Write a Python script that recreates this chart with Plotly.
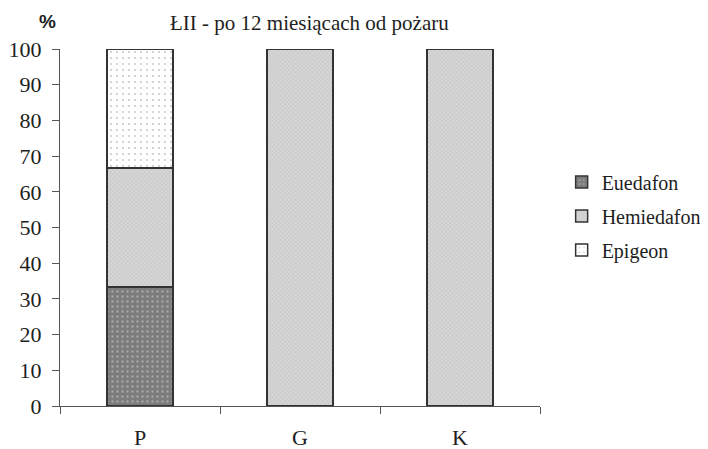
import plotly.graph_objects as go

categories = ["P", "G", "K"]
euedafon = [33.3, 0, 0]
hemiedafon = [33.3, 100, 100]
epigeon = [33.4, 0, 0]

series = [
    ("Euedafon", euedafon, dict(shape=".", bgcolor="#7c7c7c", fgcolor="#cfcfcf", size=5, solidity=0.18)),
    ("Hemiedafon", hemiedafon, dict(shape="x", bgcolor="#d6d6d6", fgcolor="#9c9c9c", size=3, solidity=0.25)),
    ("Epigeon", epigeon, dict(shape=".", bgcolor="#ffffff", fgcolor="#8a8a8a", size=6, solidity=0.08)),
]

fig = go.Figure()
for name, vals, pat in series:
    fig.add_trace(go.Bar(
        x=categories, y=vals, name=name, legendgroup=name,
        width=0.41,
        marker=dict(color=pat["bgcolor"], pattern=pat,
                    line=dict(color="#333333", width=1.5)),
    ))

serif = "Liberation Serif, Times New Roman, serif"
txt = "#1e1e1e"
fig.update_layout(
    width=708, height=449,
    barmode="stack",
    paper_bgcolor="white", plot_bgcolor="white",
    margin=dict(l=52, r=176, t=41, b=51),
    font=dict(family=serif, size=21, color=txt),
    showlegend=True,
    legend=dict(xref="container", yref="paper", x=0.782, y=0.532,
                xanchor="left", yanchor="middle",
                traceorder="reversed+grouped", tracegroupgap=5,
                font=dict(family=serif, size=20, color=txt),
                bgcolor="rgba(0,0,0,0)", borderwidth=0),
)
fig.add_annotation(text="ŁII - po 12 miesiącach od pożaru", xref="paper", yref="paper",
                   x=0.52, y=1.072, xanchor="center", yanchor="middle", showarrow=False,
                   font=dict(family=serif, size=21, color=txt))
fig.add_annotation(text="<b>%</b>", xref="paper", yref="paper",
                   x=-0.027, y=1.076, xanchor="center", yanchor="middle", showarrow=False,
                   font=dict(family="Liberation Sans, Arial, sans-serif", size=19, color=txt))

fig.update_yaxes(range=[0, 100], dtick=10, showline=True, linecolor="#555555", linewidth=1,
                 ticks="outside", ticklen=7, tickcolor="#555555", showgrid=False,
                 ticklabelstandoff=6, automargin=False,
                 zeroline=False, tickfont=dict(family=serif, size=22, color=txt))
fig.update_xaxes(range=[-0.5, 2.5], showline=True, linecolor="#555555", linewidth=1,
                 ticks="outside", ticklen=7, tickcolor="#555555", tickson="boundaries",
                 ticklabelstandoff=12, automargin=False,
                 showgrid=False, tickfont=dict(family=serif, size=22, color=txt))

fig.write_html("out.html")
